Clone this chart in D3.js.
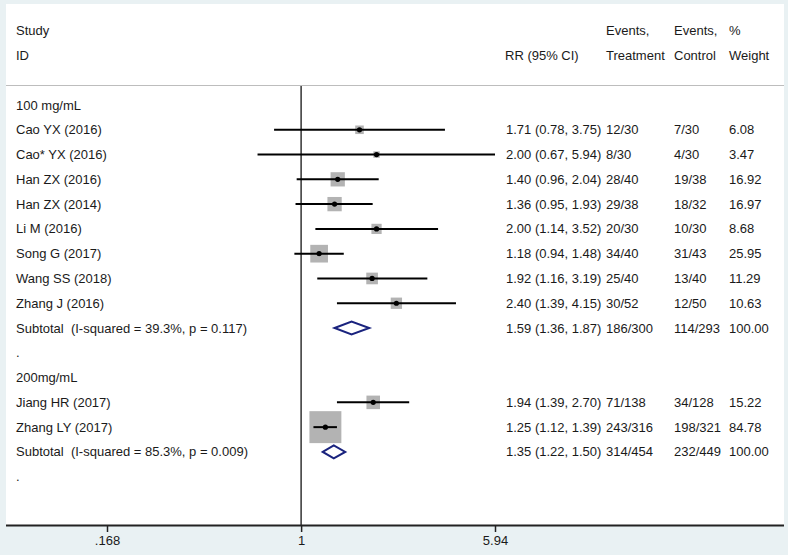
<!DOCTYPE html>
<html><head><meta charset="utf-8">
<script src="https://cdn.jsdelivr.net/npm/d3@7"></script>
<style>
html,body{margin:0;padding:0;background:#e9f1f3;}
text{font-family:"Liberation Sans",Arial,sans-serif;font-size:13px;fill:#1a1a1a;white-space:pre;}
</style></head><body>
<svg id="c" width="788" height="555"></svg>
<script>
const group1Label = "100 mg/mL";
const group1Studies = ["Cao YX (2016)","Cao* YX (2016)","Han ZX (2016)","Han ZX (2014)","Li M (2016)","Song G (2017)","Wang SS (2018)","Zhang J (2016)"];
const group1RR = [1.71,2.00,1.40,1.36,2.00,1.18,1.92,2.40];
const group1Lo = [0.78,0.67,0.96,0.95,1.14,0.94,1.16,1.39];
const group1Hi = [3.75,5.94,2.04,1.93,3.52,1.48,3.19,4.15];
const group1Treat = ["12/30","8/30","28/40","29/38","20/30","34/40","25/40","30/52"];
const group1Ctrl = ["7/30","4/30","19/38","18/32","10/30","31/43","13/40","12/50"];
const group1Weight = [6.08,3.47,16.92,16.97,8.68,25.95,11.29,10.63];
const group1Subtotal = {label:"Subtotal  (I-squared = 39.3%, p = 0.117)", rr:1.59, lo:1.36, hi:1.87, treat:"186/300", ctrl:"114/293", weight:100.00};

const group2Label = "200mg/mL";
const group2Studies = ["Jiang HR (2017)","Zhang LY (2017)"];
const group2RR = [1.94,1.25];
const group2Lo = [1.39,1.12];
const group2Hi = [2.70,1.39];
const group2Treat = ["71/138","243/316"];
const group2Ctrl = ["34/128","198/321"];
const group2Weight = [15.22,84.78];
const group2Subtotal = {label:"Subtotal  (I-squared = 85.3%, p = 0.009)", rr:1.35, lo:1.22, hi:1.50, treat:"314/454", ctrl:"232/449", weight:100.00};

const tickValues = [0.168, 1, 5.94];
const tickLabels = [".168", "1", "5.94"];

// build rows
const rows = [];
function addGroup(label, studies, rr, lo, hi, tr, ct, w, sub){
  rows.push({type:"label", label});
  studies.forEach((s,i)=>rows.push({type:"study", label:s, rr:rr[i], lo:lo[i], hi:hi[i], treat:tr[i], ctrl:ct[i], weight:w[i]}));
  rows.push(Object.assign({type:"subtotal"}, sub));
  rows.push({type:"label", label:"."});
}
addGroup(group1Label, group1Studies, group1RR, group1Lo, group1Hi, group1Treat, group1Ctrl, group1Weight, group1Subtotal);
addGroup(group2Label, group2Studies, group2RR, group2Lo, group2Hi, group2Treat, group2Ctrl, group2Weight, group2Subtotal);

const svg = d3.select("#c");
svg.append("rect").attr("x",6).attr("y",4).attr("width",778).attr("height",521).attr("fill","#ffffff");

const x = d3.scaleLog().domain([0.168, 5.94]).range([107, 495]);
const y = d3.scaleLinear().domain([0, rows.length-1]).range([105, 105 + 24.78*(rows.length-1)]);
const boxScale = d3.scaleSqrt().domain([0, 100]).range([0, 34.7]);

const hdr = svg.append("g");
hdr.append("text").attr("x",16).attr("y",30).attr("dy","0.35em").text("Study");
hdr.append("text").attr("x",16).attr("y",55).attr("dy","0.35em").text("ID");
hdr.append("text").attr("x",505).attr("y",55).attr("dy","0.35em").text("RR (95% CI)");
hdr.append("text").attr("x",606).attr("y",30).attr("dy","0.35em").text("Events,");
hdr.append("text").attr("x",606).attr("y",55).attr("dy","0.35em").text("Treatment");
hdr.append("text").attr("x",674).attr("y",30).attr("dy","0.35em").text("Events,");
hdr.append("text").attr("x",674).attr("y",55).attr("dy","0.35em").text("Control");
hdr.append("text").attr("x",729).attr("y",30).attr("dy","0.35em").text("%");
hdr.append("text").attr("x",729).attr("y",55).attr("dy","0.35em").text("Weight");

svg.append("line").attr("x1",6).attr("x2",784).attr("y1",85.5).attr("y2",85.5).attr("stroke","#bdbdbd").attr("stroke-width",1);

svg.append("line").attr("x1",x(1)).attr("x2",x(1)).attr("y1",86).attr("y2",525).attr("stroke","#333").attr("stroke-width",1.5);

const fmt = d3.format(".2f");
rows.forEach((r,i)=>{
  const yy = y(i);
  const g = svg.append("g");
  g.append("text").attr("x",16).attr("y",yy).attr("dy","0.35em").text(r.label);
  if(r.type==="study"){
    const s = boxScale(r.weight);
    g.append("rect").attr("x",x(r.rr)-s/2).attr("y",yy-s/2).attr("width",s).attr("height",s).attr("fill","#b3b3b3");
    g.append("line").attr("x1",x(r.lo)).attr("x2",x(r.hi)).attr("y1",yy).attr("y2",yy).attr("stroke","#000").attr("stroke-width",2);
    g.append("circle").attr("cx",x(r.rr)).attr("cy",yy).attr("r",2.6).attr("fill","#000");
  }
  if(r.type==="subtotal"){
    const h = 6.5;
    const pts = [[x(r.lo),yy],[x(r.rr),yy-h],[x(r.hi),yy],[x(r.rr),yy+h]];
    g.append("path").attr("d", d3.line()(pts)+"Z").attr("fill","#fff").attr("stroke","#1a237e").attr("stroke-width",2);
  }
  if(r.type==="study"||r.type==="subtotal"){
    g.append("text").attr("x",506).attr("y",yy).attr("dy","0.35em").text(`${fmt(r.rr)} (${fmt(r.lo)}, ${fmt(r.hi)})`);
    g.append("text").attr("x",606).attr("y",yy).attr("dy","0.35em").text(r.treat);
    g.append("text").attr("x",674).attr("y",yy).attr("dy","0.35em").text(r.ctrl);
    g.append("text").attr("x",729).attr("y",yy).attr("dy","0.35em").text(fmt(r.weight));
  }
});

const axis = d3.axisBottom(x).tickValues(tickValues).tickFormat((d,i)=>tickLabels[i]).tickSize(7).tickSizeOuter(0).tickPadding(4);
const ag = svg.append("g").attr("transform","translate(0,525)").call(axis);
ag.select(".domain").remove();
ag.selectAll(".tick line").attr("stroke","#222").attr("stroke-width",1.5);
ag.selectAll(".tick text").style("font-family","'Liberation Sans',Arial,sans-serif").style("font-size","13px").attr("fill","#1a1a1a");
svg.append("line").attr("x1",6).attr("x2",784).attr("y1",525.5).attr("y2",525.5).attr("stroke","#222").attr("stroke-width",2);
</script></body></html>
